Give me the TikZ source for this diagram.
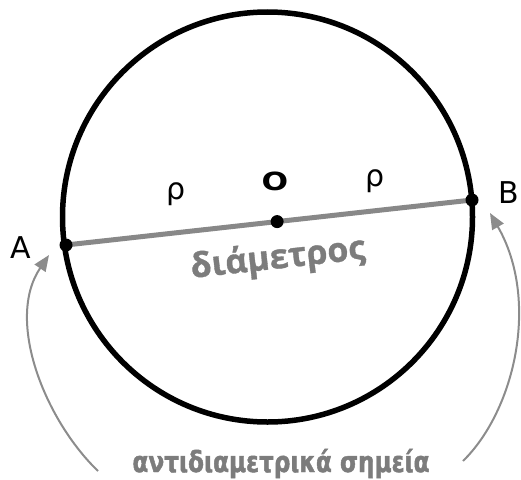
\documentclass[tikz,border=0pt]{standalone}
\usepackage{fontspec}
\setmainfont{DejaVu Sans}
\newfontfamily\diamfont{Open Sans}[UprightFont={* Bold}, FakeBold=1]
\newfontfamily\antifont{DejaVu Sans}[UprightFont={* Bold}, FakeStretch=0.80, FakeBold=1.5]
\usetikzlibrary{arrows.meta}
\definecolor{diamgray}{RGB}{136,136,136}
\definecolor{labelgray}{RGB}{124,124,124}
\definecolor{arrowgray}{RGB}{140,140,140}

\begin{document}
\begin{tikzpicture}[x=1pt, y=-1pt,
  rim/.style={line width=5.5pt, black},
  diameter/.style={line width=5pt, diamgray},
  dot/.style={circle, fill=black, inner sep=0pt, minimum size=13pt},
  ptlabel/.style={anchor=base, font=\fontsize{30}{32}\selectfont},
  bend arrow/.style={line width=2pt, arrowgray, -{Triangle[length=16pt,width=13pt]}}]
\useasboundingbox (0,0) rectangle (521,479);
% circle and diameter
\coordinate (ctr) at (267.5,217);
\coordinate (A) at (66,245);
\coordinate (B) at (472,200);
\draw[rim] (ctr) circle[radius=205];
\draw[diameter] (A) -- (B) coordinate[pos=0.52] (O);
\node[dot] (dotA) at (A) {};
\node[dot] (dotB) at (B) {};
\node[dot] (dotO) at (O) {};
% labels
\node[ptlabel] (labA) at (21,258) {A};
\node[ptlabel] (labB) at (509,203) {B};
\node[ptlabel] (rhoL) at (176,199) {ρ};
\node[ptlabel] (rhoR) at (375,186) {ρ};
\node[anchor=base, font=\bfseries\fontsize{25}{25}\selectfont] (labO) at (275,190) {\scalebox{1.25}[1]{O}};
\node[rotate=6.3, text=labelgray, font=\diamfont\fontsize{34}{36}\selectfont] (diam) at (278,259) {διάμετρος};
\node[anchor=base, text=labelgray, font=\antifont\fontsize{29}{30}\selectfont] (anti) at (281,472) {αντιδιαμετρικά σημεία};
% arrows to the endpoints
\coordinate (tailA) at (98,471);
\coordinate (tipA) at (49,255);
\coordinate (tailB) at (463,461);
\coordinate (tipB) at (490,213);
\draw[bend arrow] (tailA) .. controls (45,420) and (5,320) .. (tipA);
\draw[bend arrow] (tailB) .. controls (515,410) and (540,300) .. (tipB);
\end{tikzpicture}
\end{document}
